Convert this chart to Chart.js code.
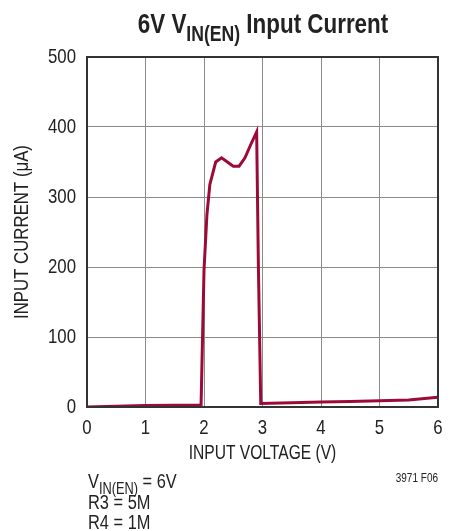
<!DOCTYPE html>
<html>
<head>
<meta charset="utf-8">
<script src="https://cdn.jsdelivr.net/npm/chart.js@4.4.1/dist/chart.umd.min.js"></script>
<style>
  html, body { margin: 0; padding: 0; background: #fff; }
  #wrap { width: 450px; height: 531px; }
</style>
</head>
<body>
<div id="wrap"><canvas id="inputChart" width="450" height="531"></canvas></div>
<script>
// input voltage (V) vs input current (uA)
const voltage = [0, 0.5, 1, 1.5, 1.95, 2.0, 2.05, 2.1, 2.2, 2.3, 2.4, 2.5, 2.6, 2.7, 2.8, 2.9, 2.93, 2.97, 3.5, 4, 4.5, 5, 5.5, 6];
const current = [0, 1, 2, 2.5, 3, 195, 275, 318, 350, 356, 350, 344, 344, 356, 375, 393, 200, 5, 6, 7, 8, 9, 10, 14];
const xTicks = [0, 1, 2, 3, 4, 5, 6];
const yTicks = [0, 100, 200, 300, 400, 500];

const FONT = "'Liberation Sans', Arial, sans-serif";
const NARROW = 0.8; // squeeze factor to get a condensed look
const LINE_COLOR = "#9c0b38";
const TEXT_COLOR = "#222";

const points = voltage.map((v, i) => ({ x: v, y: current[i] }));

// draws a run of text pieces (some subscript) squeezed horizontally
function narrowText(ctx, parts, x, y, size, opts) {
  opts = opts || {};
  const weight = opts.bold ? "bold " : "";
  const fontFor = p => weight + (p.sub ? Math.round(size * 0.78) : size) + "px " + FONT;
  let w = 0;
  parts.forEach(p => { ctx.font = fontFor(p); w += ctx.measureText(p.t).width; });
  ctx.save();
  ctx.translate(x, y);
  if (opts.rotate) ctx.rotate(opts.rotate);
  ctx.scale(NARROW, 1);
  let cx = opts.align === "center" ? -w / 2 : opts.align === "right" ? -w : 0;
  ctx.textAlign = "left";
  ctx.textBaseline = opts.baseline || "alphabetic";
  parts.forEach(p => {
    ctx.font = fontFor(p);
    ctx.fillText(p.t, cx, p.sub ? size * 0.3 : 0);
    cx += ctx.measureText(p.t).width;
  });
  ctx.restore();
}

const labels = {
  id: "labels",
  afterDraw(chart) {
    const ctx = chart.ctx;
    const area = chart.chartArea;
    const xs = chart.scales.x;
    const ys = chart.scales.y;
    ctx.save();

    // dark frame round the plot
    ctx.strokeStyle = "#333";
    ctx.lineWidth = 2;
    ctx.strokeRect(area.left, area.top, area.right - area.left, area.bottom - area.top);

    ctx.fillStyle = TEXT_COLOR;
    // tick labels
    xTicks.forEach(v => narrowText(ctx, [{ t: String(v) }], xs.getPixelForValue(v), 428, 21, { align: "center", baseline: "middle" }));
    yTicks.forEach(v => narrowText(ctx, [{ t: String(v) }], 76, ys.getPixelForValue(v), 21, { align: "right", baseline: "middle" }));

    // title
    narrowText(ctx, [{ t: "6V V" }, { t: "IN(EN)", sub: true }, { t: " Input Current" }], 263, 33, 28, { bold: true, align: "center" });

    // axis titles
    narrowText(ctx, [{ t: "INPUT VOLTAGE (V)" }], (area.left + area.right) / 2, 454, 19.5, { align: "center", baseline: "middle" });
    narrowText(ctx, [{ t: "INPUT CURRENT (\u03bcA)" }], 22, (area.top + area.bottom) / 2, 21, { align: "center", baseline: "middle", rotate: -Math.PI / 2 });

    // conditions
    narrowText(ctx, [{ t: "V" }, { t: "IN(EN)", sub: true }, { t: " = 6V" }], 88, 488, 20.5);
    narrowText(ctx, [{ t: "R3 = 5M" }], 88, 509, 20.5);
    narrowText(ctx, [{ t: "R4 = 1M" }], 88, 529, 20.5);
    narrowText(ctx, [{ t: "3971 F06" }], 438, 482, 12.5, { align: "right" });
    ctx.restore();
  }
};

new Chart(document.getElementById("inputChart"), {
  type: "scatter",
  data: {
    datasets: [{
      data: points,
      showLine: true,
      borderColor: LINE_COLOR,
      borderWidth: 3,
      pointRadius: 0,
      tension: 0
    }]
  },
  options: {
    responsive: false,
    animation: false,
    layout: { padding: { left: 0, right: 12, top: 57, bottom: 0 } },
    plugins: { legend: { display: false }, tooltip: { enabled: false } },
    scales: {
      x: {
        type: "linear",
        min: 0,
        max: 6,
        afterFit(s) { s.height = 124; s.paddingLeft = 0; s.paddingRight = 0; },
        afterBuildTicks(s) { s.ticks = xTicks.map(v => ({ value: v })); },
        grid: { color: "#8a8a8a", lineWidth: 1, drawTicks: false },
        border: { display: false },
        ticks: { display: false }
      },
      y: {
        min: 0,
        max: 500,
        afterFit(s) { s.width = 87; },
        afterBuildTicks(s) { s.ticks = yTicks.map(v => ({ value: v })); },
        grid: { color: "#8a8a8a", lineWidth: 1, drawTicks: false },
        border: { display: false },
        ticks: { display: false }
      }
    }
  },
  plugins: [labels]
});
</script>
</body>
</html>
